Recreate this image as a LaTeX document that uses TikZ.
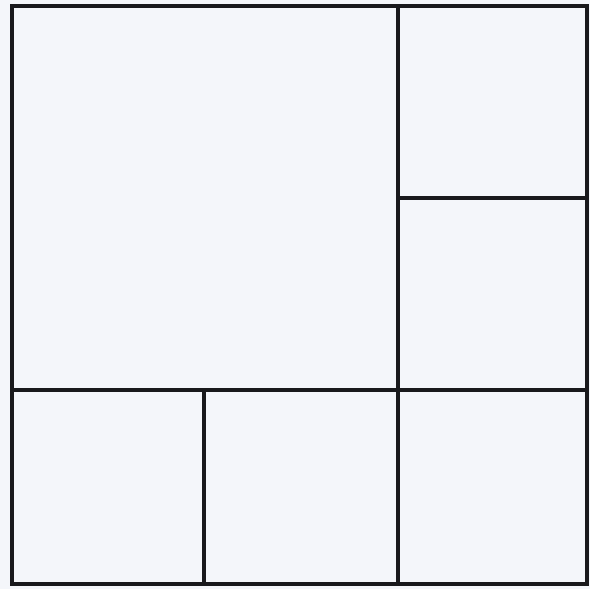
\documentclass[tikz,border=0pt]{standalone}
\definecolor{paper}{RGB}{244,246,250}
\definecolor{ink}{RGB}{25,25,28}
\begin{document}
\begin{tikzpicture}[x=0.03cm,y=-0.03cm,
  gridline/.style={draw=ink,line width=3pt,line cap=rect}]
\fill[paper] (0,0) rectangle (590,589);
\useasboundingbox (0,0) rectangle (590,589);
\draw[gridline] (12,6) rectangle (587,584);
\draw[gridline] (398,6) -- (398,584);
\draw[gridline] (12,390) -- (587,390);
\draw[gridline] (398,198) -- (587,198);
\draw[gridline] (204,390) -- (204,584);
\end{tikzpicture}
\end{document}
